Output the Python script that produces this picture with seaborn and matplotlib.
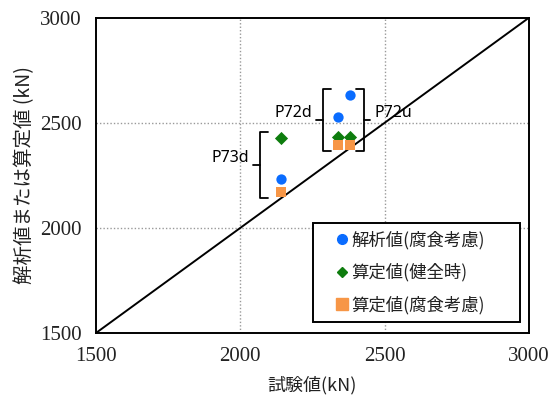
import matplotlib
matplotlib.use("Agg")
import matplotlib.pyplot as plt
from matplotlib.lines import Line2D
import seaborn as sns
import pandas as pd

# Specimens and measured / computed capacities (kN)
specimens = ["P73d", "P72d", "P72u"]
test_values = [2140, 2340, 2380]
analysis_corroded = [2235, 2530, 2635]
calc_sound = [2430, 2435, 2435]
calc_corroded = [2170, 2395, 2395]

series_names = ["解析値(腐食考慮)", "算定値(健全時)", "算定値(腐食考慮)"]
series_colors = ["#0a6cff", "#0e7d0e", "#f79646"]
series_markers = ["o", "D", "s"]
series_sizes = [55, 45, 60]

axis_ticks = [1500, 2000, 2500, 3000]
xlabel = "試験値(kN)"
ylabel = "解析値または算定値 (kN)"

sns.set_theme(style="white")
plt.rcParams["font.family"] = ["Noto Sans CJK JP", "DejaVu Sans"]

rows = []
for name, vals in zip(series_names, [analysis_corroded, calc_sound, calc_corroded]):
    for sp, t, v in zip(specimens, test_values, vals):
        rows.append({"specimen": sp, "test": t, "value": v, "series": name})
df = pd.DataFrame(rows)

fig = plt.figure(figsize=(5.48, 3.96), dpi=100)
ax = fig.add_axes([0.175, 0.159, 0.79, 0.796])

ax.set_xlim(axis_ticks[0], axis_ticks[-1])
ax.set_ylim(axis_ticks[0], axis_ticks[-1])
ax.set_xticks(axis_ticks)
ax.set_yticks(axis_ticks)

# grid (dotted)
for v in axis_ticks[1:-1]:
    ax.axvline(v, color="#999999", linestyle=(0, (1, 1.5)), linewidth=1.0, zorder=0)
    ax.axhline(v, color="#999999", linestyle=(0, (1, 1.5)), linewidth=1.0, zorder=0)

# 1:1 line
ax.plot([axis_ticks[0], axis_ticks[-1]], [axis_ticks[0], axis_ticks[-1]],
        color="black", linewidth=1.4, zorder=1)

for name, col, mk, sz in zip(series_names, series_colors, series_markers, series_sizes):
    sub = df[df["series"] == name]
    sns.scatterplot(data=sub, x="test", y="value", ax=ax, color=col, marker=mk,
                    s=sz, linewidth=0, zorder=3, legend=False)


def bracket(ax, x, y0, y1, side, serif=28, tick=22):
    # side = -1: opening bracket "[" with outward tick to the left
    # side = +1: closing bracket "]" with outward tick to the right
    inward = -side
    ax.plot([x + inward * serif, x, x, x + inward * serif], [y0, y0, y1, y1],
            color="black", linewidth=1.3, solid_joinstyle="round", zorder=2)
    ym = (y0 + y1) / 2
    ax.plot([x, x + side * tick], [ym, ym], color="black", linewidth=1.3, zorder=2)
    return x + side * tick, ym


label_kw = dict(textcoords="offset points", va="center", fontsize=11.5,
                family="Noto Sans", color="black")
pad_y = 27
# P73d group
i73 = specimens.index("P73d")
vals73 = [analysis_corroded[i73], calc_sound[i73], calc_corroded[i73]]
tx, ty = bracket(ax, test_values[i73] - 72, min(vals73) - pad_y, max(vals73) + pad_y, -1)
ax.annotate("P73d", (tx, ty), xytext=(-3, 5), ha="right", **label_kw)

# P72 group
i72d, i72u = specimens.index("P72d"), specimens.index("P72u")
vals72 = [analysis_corroded[i72d], calc_sound[i72d], calc_corroded[i72d],
          analysis_corroded[i72u], calc_sound[i72u], calc_corroded[i72u]]
lo72, hi72 = min(vals72) - pad_y, max(vals72) + pad_y
tx, ty = bracket(ax, test_values[i72d] - 54, lo72, hi72, -1)
ax.annotate("P72d", (tx, ty), xytext=(-3, 5), ha="right", **label_kw)
tx, ty = bracket(ax, test_values[i72u] + 48, lo72, hi72, 1)
ax.annotate("P72u", (tx, ty), xytext=(3, 5), ha="left", **label_kw)

# spines and ticks
for sp in ax.spines.values():
    sp.set_visible(True)
    sp.set_color("black")
    sp.set_linewidth(1.4)
ax.tick_params(direction="in", length=4, width=1, pad=10, colors="black",
               labelsize=15)
for lab in ax.get_xticklabels() + ax.get_yticklabels():
    lab.set_family("Liberation Serif")
    lab.set_color("#222222")

ax.set_xlabel(xlabel, fontsize=13, color="#222222", labelpad=7)
ax.set_ylabel(ylabel, fontsize=14, color="#222222", labelpad=4)

handles = [Line2D([], [], linestyle="none", marker=m, color=c, markersize=ms)
           for m, c, ms in zip(series_markers, series_colors, [7, 5, 8])]
leg = ax.legend(handles, series_names, loc="lower left",
                bbox_to_anchor=(0.501, 0.035, 0.478, 0.317), mode="expand",
                fontsize=12.5, frameon=True, fancybox=False, edgecolor="black",
                handlelength=2.5, handletextpad=-0.75, labelspacing=0.8,
                borderpad=0.45, borderaxespad=0)
leg.get_frame().set_linewidth(1.4)
leg.get_frame().set_facecolor("white")
leg.get_frame().set_alpha(1)
leg.set_zorder(5)
for t in leg.get_texts():
    t.set_color("#222222")

fig.savefig("out.png", dpi=100)
